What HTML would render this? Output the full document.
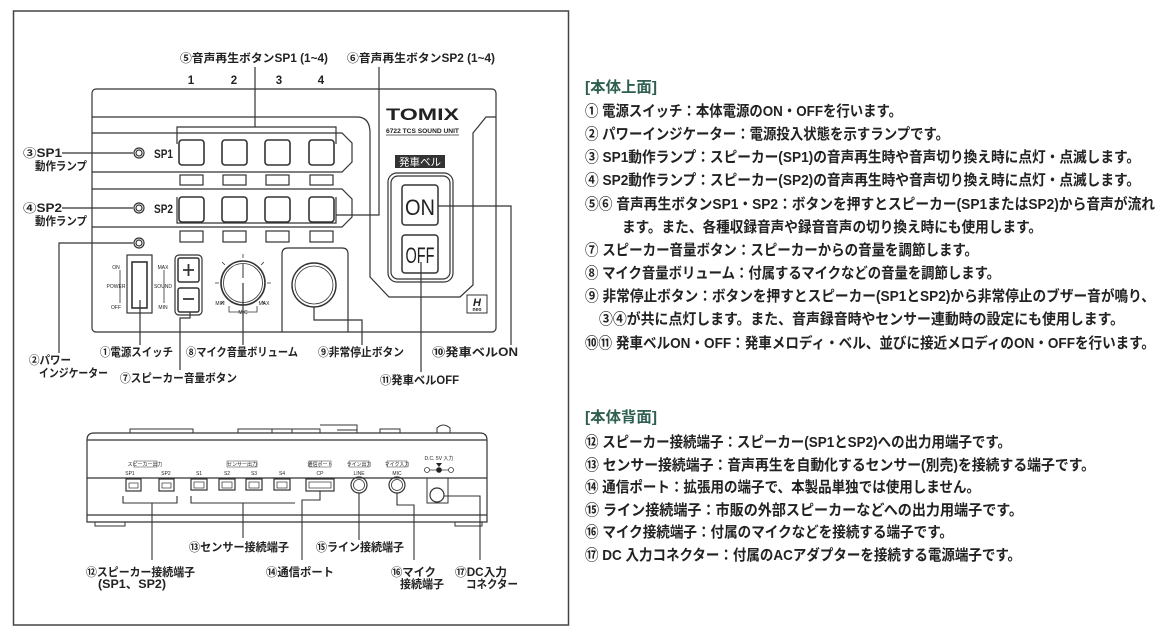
<!DOCTYPE html>
<html><head><meta charset="utf-8"><style>
html,body{margin:0;padding:0;background:#fff;}
svg{display:block;}
text{font-family:"Liberation Sans","Noto Sans CJK JP",sans-serif;font-weight:bold;fill:#222;}
.r{font-size:15px;}
.l{font-size:11.5px;}
.s{font-size:9px;font-weight:normal;}
.t{font-size:5px;font-weight:normal;}
</style></head><body>
<svg width="1170" height="631" viewBox="0 0 1170 631" xmlns="http://www.w3.org/2000/svg">
<rect x="0" y="0" width="1170" height="631" fill="#fff"/>
<!-- frame -->
<rect x="13.5" y="11" width="555" height="614" fill="none" stroke="#444" stroke-width="1.5"/>

<g fill="none" stroke="#333" stroke-width="1.2">
<!-- top body -->
<rect x="92" y="89" width="404" height="243" rx="4"/>
<path d="M92 117 H357 Q370 117 370 133 V277 L389 297 H460 L473 285 V133 L486 117 H496"/>
<path d="M92 133 H342 L352 143 V162 L342 172 H92"/>
<path d="M92 189 H342 L352 199 V217 L342 227 H92"/>
<!-- buttons SP1 -->
<rect x="179" y="140" width="25" height="25" rx="3" stroke-width="1.6"/>
<rect x="222" y="140" width="25" height="25" rx="3" stroke-width="1.6"/>
<rect x="265" y="140" width="25" height="25" rx="3" stroke-width="1.6"/>
<rect x="309" y="140" width="25" height="25" rx="3" stroke-width="1.6"/>
<rect x="180" y="175" width="23" height="10"/>
<rect x="223" y="175" width="23" height="10"/>
<rect x="266" y="175" width="23" height="10"/>
<rect x="310" y="175" width="23" height="10"/>
<rect x="179" y="197" width="25" height="25" rx="3" stroke-width="1.6"/>
<rect x="222" y="197" width="25" height="25" rx="3" stroke-width="1.6"/>
<rect x="265" y="197" width="25" height="25" rx="3" stroke-width="1.6"/>
<rect x="309" y="197" width="25" height="25" rx="3" stroke-width="1.6"/>
<rect x="180" y="231" width="23" height="11"/>
<rect x="223" y="231" width="23" height="11"/>
<rect x="266" y="231" width="23" height="11"/>
<rect x="310" y="231" width="23" height="11"/>
<!-- LEDs -->
<circle cx="139" cy="153" r="5"/><circle cx="139" cy="153" r="3"/>
<circle cx="139" cy="208" r="5"/><circle cx="139" cy="208" r="3"/>
<circle cx="139" cy="243" r="5"/><circle cx="139" cy="243" r="3"/>
<!-- brackets -->
<path d="M177 144 V127 H336 V144 M255 127 V67"/>
<path d="M177 197 V223 H336 V197 M336 215 H379 V67"/>
<!-- bell -->
<rect x="388" y="173" width="65" height="109" rx="9"/>
<rect x="391" y="176" width="59" height="103" rx="7"/>
<rect x="402" y="185" width="36" height="40" rx="3" stroke-width="1.5"/>
<rect x="402" y="235" width="36" height="38" rx="3" stroke-width="1.5"/>
<!-- power switch -->
<rect x="127" y="255" width="25" height="58"/>
<rect x="132" y="262" width="15" height="46" stroke-width="1.6"/>
<path d="M120 270 V303 M164 270 V303" stroke-width="0.8"/>
<!-- +/- -->
<rect x="175" y="255" width="27" height="60" rx="4"/>
<rect x="178" y="258" width="21" height="24" rx="2" stroke-width="1.5"/>
<rect x="178" y="288" width="21" height="24" rx="2" stroke-width="1.5"/>
<path d="M183 270 H194 M188.5 264 V276 M183 299 H194" stroke-width="1.8"/>
<!-- knob -->
<circle cx="243" cy="283" r="22" stroke-width="1.6"/>
<circle cx="243" cy="283" r="19.5" stroke-width="0.8"/>
<path d="M243 264 V278" stroke="#999" stroke-width="2"/>
<path d="M243 258 V254 M225 265 L222 262 M261 265 L264 262 M219 283 H215 M267 283 H271 M224 301 L221 304 M262 301 L265 304" stroke-width="0.8"/>
<path d="M229 306 V312 H257 V306" stroke-width="0.8"/>
<!-- emergency -->
<path d="M282 332 V254 Q282 248 288 248 H342 Q348 248 348 254 V332"/>
<circle cx="314" cy="285" r="22" stroke-width="1.4"/>
<circle cx="314" cy="285" r="19" stroke-width="0.8"/>
<!-- neo -->
<rect x="467" y="295" width="20" height="18" stroke-width="1"/>
<!-- leaders top -->
<path d="M62 153 H133 M62 208 H133 M133 243 H59 V353 M140 300 V345 M190 312 V318 H180 V370 M243 283 V345 M314 307 V320 H362 V345 M438 206 H511 V345 M421 262 V372"/>
<!-- back body -->
<path d="M87 522 V440 Q87 433 94 433 H480 Q487 433 487 440 V522 Z"/>
<path d="M87 440 H487 M87 478 H487 M87 515 H487"/>
<path d="M95 522 V526 H125 V522 M455 522 V526 H482 V522" stroke-width="1"/>
<path d="M130 433 V429 H193 V433 M238 433 V429 H272 V433 M272 429 H292 V433 M292 429 H320 V433 M320 425 H357 V433 M337 430 H357 M380 433 V429 H400 V433 M437 433 V428 Q443 422 450 428 V433" stroke-width="1"/>
<!-- connectors -->
<rect x="126" y="479" width="15" height="12"/><rect x="129" y="483" width="9" height="5" stroke-width="0.7"/>
<rect x="159" y="479" width="15" height="12"/><rect x="162" y="483" width="9" height="5" stroke-width="0.7"/>
<rect x="191" y="479" width="16" height="11"/><rect x="194" y="482" width="10" height="6" stroke-width="0.7"/>
<rect x="219" y="479" width="16" height="11"/><rect x="222" y="482" width="10" height="6" stroke-width="0.7"/>
<rect x="246" y="479" width="16" height="11"/><rect x="249" y="482" width="10" height="6" stroke-width="0.7"/>
<rect x="274" y="479" width="16" height="11"/><rect x="277" y="482" width="10" height="6" stroke-width="0.7"/>
<rect x="306" y="479" width="28" height="12"/><rect x="309" y="482" width="22" height="6" stroke-width="0.7"/>
<circle cx="359" cy="485" r="8"/><circle cx="359" cy="485" r="5.5" stroke-width="0.8"/>
<circle cx="397" cy="485" r="8"/><circle cx="397" cy="485" r="5.5" stroke-width="0.8"/>
<path d="M427 478 V503 H448 V478" stroke-width="1"/>
<circle cx="437" cy="495" r="7"/>
<!-- brackets back -->
<path d="M123 496 V503 H177 V496 M152 503 V560 M191 496 V503 H295 V503 M191 503 H295 M243 503 V538 M320 491 V500 H302 V560 M359 493 V540 M397 493 V505 H414 V560 M444 496 H480 V560" stroke-width="1.1"/>
<!-- DC symbol -->
<circle cx="427" cy="470" r="2.5" stroke-width="0.8"/><circle cx="451" cy="470" r="2.5" stroke-width="0.8"/>
<path d="M430 470 H448" stroke-width="0.8"/>
</g>
<circle cx="439" cy="470" r="2.8" fill="#222"/>
<path d="M436 463 H442 L439 467 Z" fill="#222"/>

<!-- TOMIX -->
<text x="386" y="120" style="font-size:17px;font-weight:900" textLength="73" lengthAdjust="spacingAndGlyphs">TOMIX</text>
<text x="386" y="133" style="font-size:6.5px" textLength="73" lengthAdjust="spacingAndGlyphs">6722 TCS SOUND UNIT</text>
<line x1="386" y1="135" x2="459" y2="135" stroke="#333" stroke-width="0.8"/>
<rect x="395" y="155" width="50" height="13" fill="#333"/>
<text x="420" y="165.5" text-anchor="middle" style="font-size:10.5px;font-weight:normal;fill:#fff">発車ベル</text>
<text x="420" y="215" text-anchor="middle" style="font-size:22px;font-weight:normal" textLength="30" lengthAdjust="spacingAndGlyphs">ON</text>
<text x="420" y="263" text-anchor="middle" style="font-size:22px;font-weight:normal" textLength="29" lengthAdjust="spacingAndGlyphs">OFF</text>
<text x="477" y="306" text-anchor="middle" style="font-size:11px;font-style:italic;font-weight:900">H</text>
<text x="477" y="311" text-anchor="middle" style="font-size:5px">neo</text>
<text x="154" y="158" style="font-size:12px" textLength="19" lengthAdjust="spacingAndGlyphs">SP1</text>
<text x="154" y="213" style="font-size:12px" textLength="19" lengthAdjust="spacingAndGlyphs">SP2</text>
<text x="191" y="84" class="l" text-anchor="middle">1</text>
<text x="234" y="84" class="l" text-anchor="middle">2</text>
<text x="279" y="84" class="l" text-anchor="middle">3</text>
<text x="321" y="84" class="l" text-anchor="middle">4</text>
<text x="180" y="62" class="l" textLength="148" lengthAdjust="spacingAndGlyphs">⑤音声再生ボタンSP1 (1~4)</text>
<text x="347" y="62" class="l" textLength="148" lengthAdjust="spacingAndGlyphs">⑥音声再生ボタンSP2 (1~4)</text>
<!-- switch labels -->
<text x="116" y="269" class="t" text-anchor="middle">ON</text>
<text x="116" y="288" class="t" text-anchor="middle">POWER</text>
<text x="116" y="309" class="t" text-anchor="middle">OFF</text>
<text x="163" y="269" class="t" text-anchor="middle">MAX</text>
<text x="163" y="288" class="t" text-anchor="middle">SOUND</text>
<text x="163" y="309" class="t" text-anchor="middle">MIN</text>
<text x="220" y="305" class="t" text-anchor="middle">MIN</text>
<text x="264" y="305" class="t" text-anchor="middle">MAX</text>
<text x="243" y="314" class="t" text-anchor="middle">MIC</text>
<!-- top labels -->
<text x="23" y="157" class="l" textLength="39" lengthAdjust="spacingAndGlyphs">③SP1</text>
<text x="35" y="170" class="l" textLength="52" lengthAdjust="spacingAndGlyphs">動作ランプ</text>
<text x="23" y="212" class="l" textLength="39" lengthAdjust="spacingAndGlyphs">④SP2</text>
<text x="35" y="225" class="l" textLength="52" lengthAdjust="spacingAndGlyphs">動作ランプ</text>
<text x="29" y="364" class="l" textLength="42" lengthAdjust="spacingAndGlyphs">②パワー</text>
<text x="39" y="377" class="l" textLength="69" lengthAdjust="spacingAndGlyphs">インジケーター</text>
<text x="100" y="356" class="l" textLength="73" lengthAdjust="spacingAndGlyphs">①電源スイッチ</text>
<text x="120" y="382" class="l" textLength="117" lengthAdjust="spacingAndGlyphs">⑦スピーカー音量ボタン</text>
<text x="186" y="356" class="l" textLength="112" lengthAdjust="spacingAndGlyphs">⑧マイク音量ボリューム</text>
<text x="318" y="356" class="l" textLength="86" lengthAdjust="spacingAndGlyphs">⑨非常停止ボタン</text>
<text x="432" y="356" class="l" textLength="86" lengthAdjust="spacingAndGlyphs">⑩発車ベルON</text>
<text x="380" y="384" class="l" textLength="79" lengthAdjust="spacingAndGlyphs">⑪発車ベルOFF</text>
<!-- back labels small -->
<g class="t">
<rect x="134" y="461" width="23" height="6" fill="none" stroke="#333" stroke-width="0.5"/>
<text x="145" y="466" text-anchor="middle" class="t">スピーカー出力</text>
<text x="130" y="475" text-anchor="middle" class="t">SP1</text>
<text x="166" y="475" text-anchor="middle" class="t">SP2</text>
<rect x="227" y="461" width="30" height="6" fill="none" stroke="#333" stroke-width="0.5"/>
<text x="242" y="466" text-anchor="middle" class="t">センサー出力</text>
<text x="199" y="475" text-anchor="middle" class="t">S1</text>
<text x="227" y="475" text-anchor="middle" class="t">S2</text>
<text x="254" y="475" text-anchor="middle" class="t">S3</text>
<text x="282" y="475" text-anchor="middle" class="t">S4</text>
<rect x="309" y="461" width="22" height="6" fill="none" stroke="#333" stroke-width="0.5"/>
<text x="320" y="466" text-anchor="middle" class="t">通信ポート</text>
<text x="320" y="475" text-anchor="middle" class="t">CP</text>
<rect x="349" y="461" width="20" height="6" fill="none" stroke="#333" stroke-width="0.5"/>
<text x="359" y="466" text-anchor="middle" class="t">ライン出力</text>
<text x="359" y="475" text-anchor="middle" class="t">LINE</text>
<rect x="387" y="461" width="20" height="6" fill="none" stroke="#333" stroke-width="0.5"/>
<text x="397" y="466" text-anchor="middle" class="t">マイク入力</text>
<text x="397" y="475" text-anchor="middle" class="t">MIC</text>
<text x="439" y="460" text-anchor="middle" class="t">D.C. 5V 入力</text>
</g>
<text x="189" y="551" class="l" textLength="100" lengthAdjust="spacingAndGlyphs">⑬センサー接続端子</text>
<text x="316" y="551" class="l" textLength="88" lengthAdjust="spacingAndGlyphs">⑮ライン接続端子</text>
<text x="86" y="576" class="l" textLength="109" lengthAdjust="spacingAndGlyphs">⑫スピーカー接続端子</text>
<text x="98" y="588" class="l" textLength="68" lengthAdjust="spacingAndGlyphs">(SP1、SP2)</text>
<text x="266" y="576" class="l" textLength="68" lengthAdjust="spacingAndGlyphs">⑭通信ポート</text>
<text x="391" y="576" class="l" textLength="45" lengthAdjust="spacingAndGlyphs">⑯マイク</text>
<text x="400" y="588" class="l" textLength="44" lengthAdjust="spacingAndGlyphs">接続端子</text>
<text x="455" y="576" class="l" textLength="52" lengthAdjust="spacingAndGlyphs">⑰DC入力</text>
<text x="466" y="588" class="l" textLength="52" lengthAdjust="spacingAndGlyphs">コネクター</text>

<!-- right text -->
<text x="585" y="92" class="r" style="fill:#2e5f50" textLength="72" lengthAdjust="spacingAndGlyphs">[本体上面]</text>
<text x="585" y="116" class="r" textLength="317" lengthAdjust="spacingAndGlyphs">① 電源スイッチ：本体電源のON・OFFを行います。</text>
<text x="585" y="139" class="r" textLength="364" lengthAdjust="spacingAndGlyphs">② パワーインジケーター：電源投入状態を示すランプです。</text>
<text x="585" y="162" class="r" textLength="555" lengthAdjust="spacingAndGlyphs">③ SP1動作ランプ：スピーカー(SP1)の音声再生時や音声切り換え時に点灯・点滅します。</text>
<text x="585" y="185" class="r" textLength="555" lengthAdjust="spacingAndGlyphs">④ SP2動作ランプ：スピーカー(SP2)の音声再生時や音声切り換え時に点灯・点滅します。</text>
<text x="585" y="209" class="r" textLength="570" lengthAdjust="spacingAndGlyphs">⑤⑥ 音声再生ボタンSP1・SP2：ボタンを押すとスピーカー(SP1またはSP2)から音声が流れ</text>
<text x="622" y="232" class="r" textLength="420" lengthAdjust="spacingAndGlyphs">ます。また、各種収録音声や録音音声の切り換え時にも使用します。</text>
<text x="585" y="255" class="r" textLength="393" lengthAdjust="spacingAndGlyphs">⑦ スピーカー音量ボタン：スピーカーからの音量を調節します。</text>
<text x="585" y="278" class="r" textLength="415" lengthAdjust="spacingAndGlyphs">⑧ マイク音量ボリューム：付属するマイクなどの音量を調節します。</text>
<text x="585" y="301" class="r" textLength="570" lengthAdjust="spacingAndGlyphs">⑨ 非常停止ボタン：ボタンを押すとスピーカー(SP1とSP2)から非常停止のブザー音が鳴り、</text>
<text x="599" y="324" class="r" textLength="525" lengthAdjust="spacingAndGlyphs">③④が共に点灯します。また、音声録音時やセンサー連動時の設定にも使用します。</text>
<text x="585" y="348" class="r" textLength="570" lengthAdjust="spacingAndGlyphs">⑩⑪ 発車ベルON・OFF：発車メロディ・ベル、並びに接近メロディのON・OFFを行います。</text>

<text x="585" y="422" class="r" style="fill:#2e5f50" textLength="72" lengthAdjust="spacingAndGlyphs">[本体背面]</text>
<text x="585" y="447" class="r" textLength="426" lengthAdjust="spacingAndGlyphs">⑫ スピーカー接続端子：スピーカー(SP1とSP2)への出力用端子です。</text>
<text x="585" y="470" class="r" textLength="510" lengthAdjust="spacingAndGlyphs">⑬ センサー接続端子：音声再生を自動化するセンサー(別売)を接続する端子です。</text>
<text x="585" y="492" class="r" textLength="395" lengthAdjust="spacingAndGlyphs">⑭ 通信ポート：拡張用の端子で、本製品単独では使用しません。</text>
<text x="585" y="515" class="r" textLength="438" lengthAdjust="spacingAndGlyphs">⑮ ライン接続端子：市販の外部スピーカーなどへの出力用端子です。</text>
<text x="585" y="537" class="r" textLength="368" lengthAdjust="spacingAndGlyphs">⑯ マイク接続端子：付属のマイクなどを接続する端子です。</text>
<text x="585" y="560" class="r" textLength="436" lengthAdjust="spacingAndGlyphs">⑰ DC 入力コネクター：付属のACアダプターを接続する電源端子です。</text>
</svg>
</body></html>
